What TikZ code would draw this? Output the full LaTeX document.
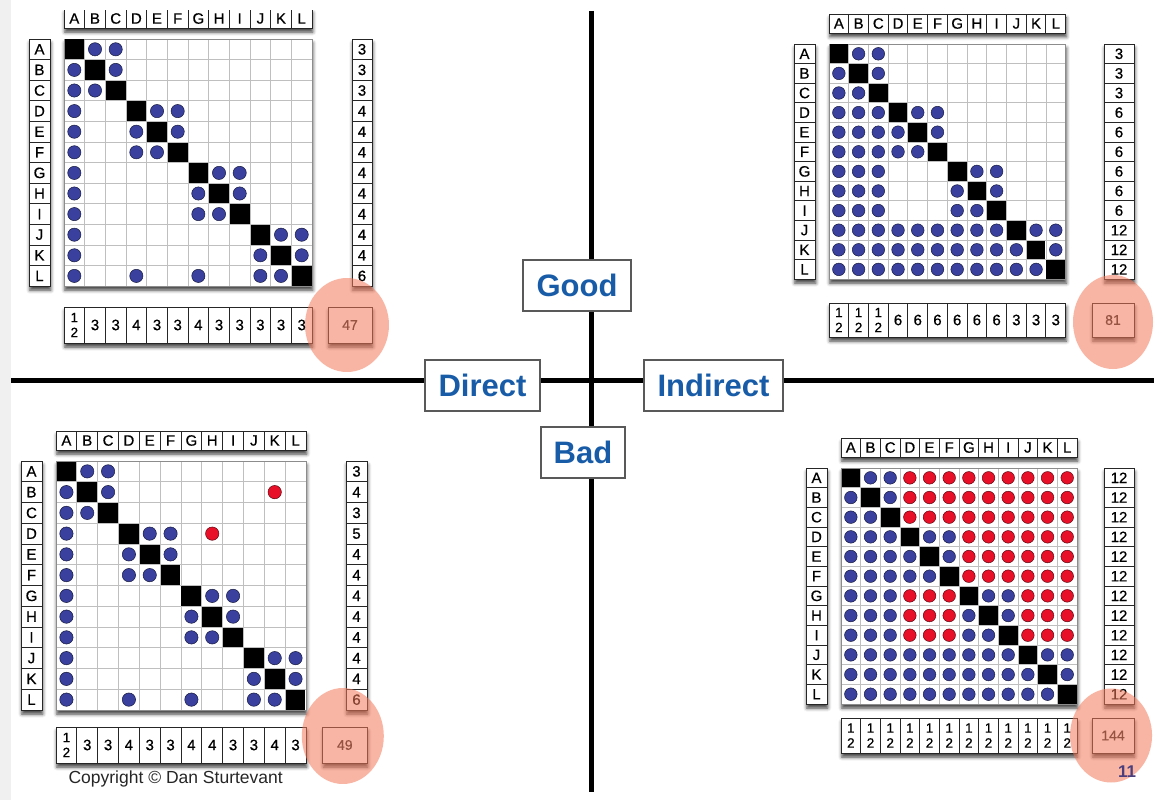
\documentclass[tikz,border=0pt]{standalone}
\usepackage{fontspec}
\setmainfont{Liberation Sans}
\newfontfamily\labfont[FakeBold=0.6]{Liberation Sans}
\usetikzlibrary{shadows.blur}

\definecolor{dotblue}{RGB}{58,64,158}
\definecolor{dotred}{RGB}{232,16,40}
\definecolor{labelblue}{RGB}{24,92,168}
\definecolor{halocol}{RGB}{244,120,90}
\definecolor{pagenumcol}{RGB}{75,62,125}
\definecolor{stripcol}{RGB}{240,240,240}

\tikzset{
  boxline/.style={draw=black!85, line width=0.9pt},
  shadowed/.style={blur shadow={shadow xshift=0.8pt, shadow yshift=-4pt, shadow blur radius=3.5pt, shadow opacity=75}},
  gridline/.style={draw=black!25, line width=0.8pt},
  gridframe/.style={draw=black!45, line width=0.9pt},
  lab/.style={inner sep=0pt, font=\labfont\fontsize{15}{15}\selectfont},
  stk/.style={inner sep=0pt, align=center, font=\labfont\fontsize{13.5}{15}\selectfont},
  tot/.style={inner sep=0pt, text=black!85, font=\labfont\fontsize{14}{14}\selectfont},
  bluedot/.style={fill=dotblue, draw=black!60!dotblue, line width=0.5pt},
  reddot/.style={fill=dotred, draw=black!60!dotred, line width=0.5pt},
  axis/.style={line width=4.5pt, black},
  quad/.style={draw=black!65, line width=1.2pt, fill=white, text=labelblue,
    font=\bfseries\fontsize{31}{31}\selectfont, inner sep=0pt},
  halo/.style={fill=halocol, fill opacity=0.55},
}

% One design structure matrix with its labels, row/column counts and total.
% #1 name, #2 grid left, #3 grid top, #4 cell width, #5 cell height,
% #6 count column left, #7 count column right, #8 bottom row top, #9 bottom row height.
% Uses \rows, \rcounts, \bcounts and \tot.
\newcommand\dsm[9]{%
  \pgfmathsetmacro\gxa{#2}\pgfmathsetmacro\gya{#3}%
  \pgfmathsetmacro\gxb{#2+12*#4}\pgfmathsetmacro\gyb{#3+12*#5}%
  \pgfmathsetmacro\byb{#8+#9}%
  \pgfmathsetmacro\txa{#7-2.13*#4}%
  % column header
  \path[fill=white, shadowed] (\gxa,\gya-30) rectangle (\gxb,\gya-11);
  \foreach \k in {1,...,11} \draw[boxline] ({#2+\k*#4},\gya-30) -- ({#2+\k*#4},\gya-11);
  \draw[boxline] (\gxa,\gya-30) rectangle (\gxb,\gya-11);
  \foreach \L [count=\k] in {A,...,L} \node[lab] (#1-top-\k) at ({#2+(\k-0.5)*#4},\gya-20.5) {\L};
  % row header
  \path[fill=white, shadowed] (\gxa-35,\gya) rectangle (\gxa-14,\gyb);
  \foreach \k in {1,...,11} \draw[boxline] (\gxa-35,{#3+\k*#5}) -- (\gxa-14,{#3+\k*#5});
  \draw[boxline] (\gxa-35,\gya) rectangle (\gxa-14,\gyb);
  \foreach \L [count=\k] in {A,...,L} \node[lab] (#1-left-\k) at (\gxa-24.5,{#3+(\k-0.5)*#5}) {\L};
  % grid
  \path[fill=white, shadowed] (\gxa,\gya) rectangle (\gxb,\gyb);
  \foreach \k in {1,...,11} {
    \draw[gridline] ({#2+\k*#4},\gya) -- ({#2+\k*#4},\gyb);
    \draw[gridline] (\gxa,{#3+\k*#5}) -- (\gxb,{#3+\k*#5});
  }
  \draw[gridframe] (\gxa,\gya) rectangle (\gxb,\gyb);
  \foreach \rowspec [count=\i] in \rows {
    \foreach \cc [count=\j] in \rowspec {
      \if\cc x\fill[black] ({#2+(\j-1)*#4+0.5},{#3+(\i-1)*#5+0.5}) rectangle ({#2+\j*#4-0.5},{#3+\i*#5-0.5});\fi
      \if\cc b\path[bluedot] ({#2+(\j-0.5)*#4},{#3+(\i-0.5)*#5}) circle [radius={0.32*#4}];\fi
      \if\cc r\path[reddot] ({#2+(\j-0.5)*#4},{#3+(\i-0.5)*#5}) circle [radius={0.32*#4}];\fi
    }
  }
  % row counts
  \path[fill=white, shadowed] (#6,\gya) rectangle (#7,\gyb);
  \foreach \k in {1,...,11} \draw[boxline] (#6,{#3+\k*#5}) -- (#7,{#3+\k*#5});
  \draw[boxline] (#6,\gya) rectangle (#7,\gyb);
  \foreach \v [count=\k] in \rcounts \node[lab] (#1-cnt-\k) at ({(#6+#7)/2},{#3+(\k-0.5)*#5}) {\v};
  % column counts
  \path[fill=white, shadowed] (\gxa,#8) rectangle (\gxb,\byb);
  \foreach \k in {1,...,11} \draw[boxline] ({#2+\k*#4},#8) -- ({#2+\k*#4},\byb);
  \draw[boxline] (\gxa,#8) rectangle (\gxb,\byb);
  \foreach \v [count=\k] in \bcounts {
    \ifnum\v=12
      \node[stk] (#1-bot-\k) at ({#2+(\k-0.5)*#4},{#8+#9/2}) {1\\2};
    \else
      \node[lab] (#1-bot-\k) at ({#2+(\k-0.5)*#4},{#8+#9/2}) {\v};
    \fi
  }
  % total
  \path[fill=white, shadowed] (\txa,#8) rectangle (#7,\byb);
  \draw[boxline] (\txa,#8) rectangle (#7,\byb);
  \node[tot] (#1-tot) at ({(\txa+#7)/2},{#8+#9/2}) {\tot};
}

\begin{document}
\begin{tikzpicture}[x=1pt, y=-1pt]
\useasboundingbox (0,0) rectangle (1154,800);
\fill[stripcol] (0,0) rectangle (11,800);

\begin{scope}
\clip (11,11) rectangle (1154,800);

% quadrant axes
\coordinate (vtop) at (591.5,11);
\coordinate (vbot) at (591.5,792);
\coordinate (hleft) at (11,380.5);
\coordinate (hright) at (1154,380.5);
\draw[axis] (vtop) -- (vbot);
\draw[axis] (hleft) -- (hright);

% direct dependencies, good structure
\def\rows{{x,b,b,o,o,o,o,o,o,o,o,o},{b,x,b,o,o,o,o,o,o,o,o,o},{b,b,x,o,o,o,o,o,o,o,o,o},
  {b,o,o,x,b,b,o,o,o,o,o,o},{b,o,o,b,x,b,o,o,o,o,o,o},{b,o,o,b,b,x,o,o,o,o,o,o},
  {b,o,o,o,o,o,x,b,b,o,o,o},{b,o,o,o,o,o,b,x,b,o,o,o},{b,o,o,o,o,o,b,b,x,o,o,o},
  {b,o,o,o,o,o,o,o,o,x,b,b},{b,o,o,o,o,o,o,o,o,b,x,b},{b,o,o,b,o,o,b,o,o,b,b,x}}
\def\rcounts{3,3,3,4,4,4,4,4,4,4,4,6}
\def\bcounts{12,3,3,4,3,3,4,3,3,3,3,3}
\def\tot{47}
\dsm{dg}{64}{39}{20.67}{20.6}{352}{372}{307}{36}

% indirect dependencies, good structure
\def\rows{{x,b,b,o,o,o,o,o,o,o,o,o},{b,x,b,o,o,o,o,o,o,o,o,o},{b,b,x,o,o,o,o,o,o,o,o,o},
  {b,b,b,x,b,b,o,o,o,o,o,o},{b,b,b,b,x,b,o,o,o,o,o,o},{b,b,b,b,b,x,o,o,o,o,o,o},
  {b,b,b,o,o,o,x,b,b,o,o,o},{b,b,b,o,o,o,b,x,b,o,o,o},{b,b,b,o,o,o,b,b,x,o,o,o},
  {b,b,b,b,b,b,b,b,b,x,b,b},{b,b,b,b,b,b,b,b,b,b,x,b},{b,b,b,b,b,b,b,b,b,b,b,x}}
\def\rcounts{3,3,3,6,6,6,6,6,6,12,12,12}
\def\bcounts{12,12,12,6,6,6,6,6,6,3,3,3}
\def\tot{81}
\dsm{ig}{829}{44}{19.72}{19.6}{1104}{1134}{303}{34}

% direct dependencies, bad structure
\def\rows{{x,b,b,o,o,o,o,o,o,o,o,o},{b,x,b,o,o,o,o,o,o,o,r,o},{b,b,x,o,o,o,o,o,o,o,o,o},
  {b,o,o,x,b,b,o,r,o,o,o,o},{b,o,o,b,x,b,o,o,o,o,o,o},{b,o,o,b,b,x,o,o,o,o,o,o},
  {b,o,o,o,o,o,x,b,b,o,o,o},{b,o,o,o,o,o,b,x,b,o,o,o},{b,o,o,o,o,o,b,b,x,o,o,o},
  {b,o,o,o,o,o,o,o,o,x,b,b},{b,o,o,o,o,o,o,o,o,b,x,b},{b,o,o,b,o,o,b,o,o,b,b,x}}
\def\rcounts{3,4,3,5,4,4,4,4,4,4,4,6}
\def\bcounts{12,3,3,4,3,3,4,4,3,3,4,3}
\def\tot{49}
\dsm{db}{56}{461}{20.83}{20.75}{346}{367}{727}{36}

% indirect dependencies, bad structure
\def\rows{{x,b,b,r,r,r,r,r,r,r,r,r},{b,x,b,r,r,r,r,r,r,r,r,r},{b,b,x,r,r,r,r,r,r,r,r,r},
  {b,b,b,x,b,b,r,r,r,r,r,r},{b,b,b,b,x,b,r,r,r,r,r,r},{b,b,b,b,b,x,r,r,r,r,r,r},
  {b,b,b,r,r,r,x,b,b,r,r,r},{b,b,b,r,r,r,b,x,b,r,r,r},{b,b,b,r,r,r,b,b,x,r,r,r},
  {b,b,b,b,b,b,b,b,b,x,b,b},{b,b,b,b,b,b,b,b,b,b,x,b},{b,b,b,b,b,b,b,b,b,b,b,x}}
\def\rcounts{12,12,12,12,12,12,12,12,12,12,12,12}
\def\bcounts{12,12,12,12,12,12,12,12,12,12,12,12}
\def\tot{144}
\dsm{ib}{841}{468}{19.67}{19.67}{1104}{1134}{718}{35}

% quadrant labels
\node[quad, minimum width=108, minimum height=51] (good) at (577,285.5) {Good};
\node[quad, minimum width=115, minimum height=51] (direct) at (482.5,385.5) {Direct};
\node[quad, minimum width=139, minimum height=51] (indirect) at (713.5,385.5) {Indirect};
\node[quad, minimum width=84, minimum height=51] (bad) at (583,452.5) {Bad};

% highlighted totals
\fill[halo] (dg-tot) ++(-3,0) ellipse [x radius=42, y radius=47];
\fill[halo] (ig-tot) ++(0,2) ellipse [x radius=40, y radius=47];
\fill[halo] (db-tot) ++(-2,-9) ellipse [x radius=41, y radius=48];
\fill[halo] (ib-tot) ++(-2,0) ellipse [x radius=41, y radius=47];

\node[anchor=west, text=black!85, font=\fontsize{17.5}{17.5}\selectfont] (copyright) at (65,779) {Copyright © Dan Sturtevant};
\node[text=pagenumcol, font=\bfseries\fontsize{17}{17}\selectfont] (pagenum) at (1127,772) {11};
\end{scope}
\end{tikzpicture}
\end{document}
